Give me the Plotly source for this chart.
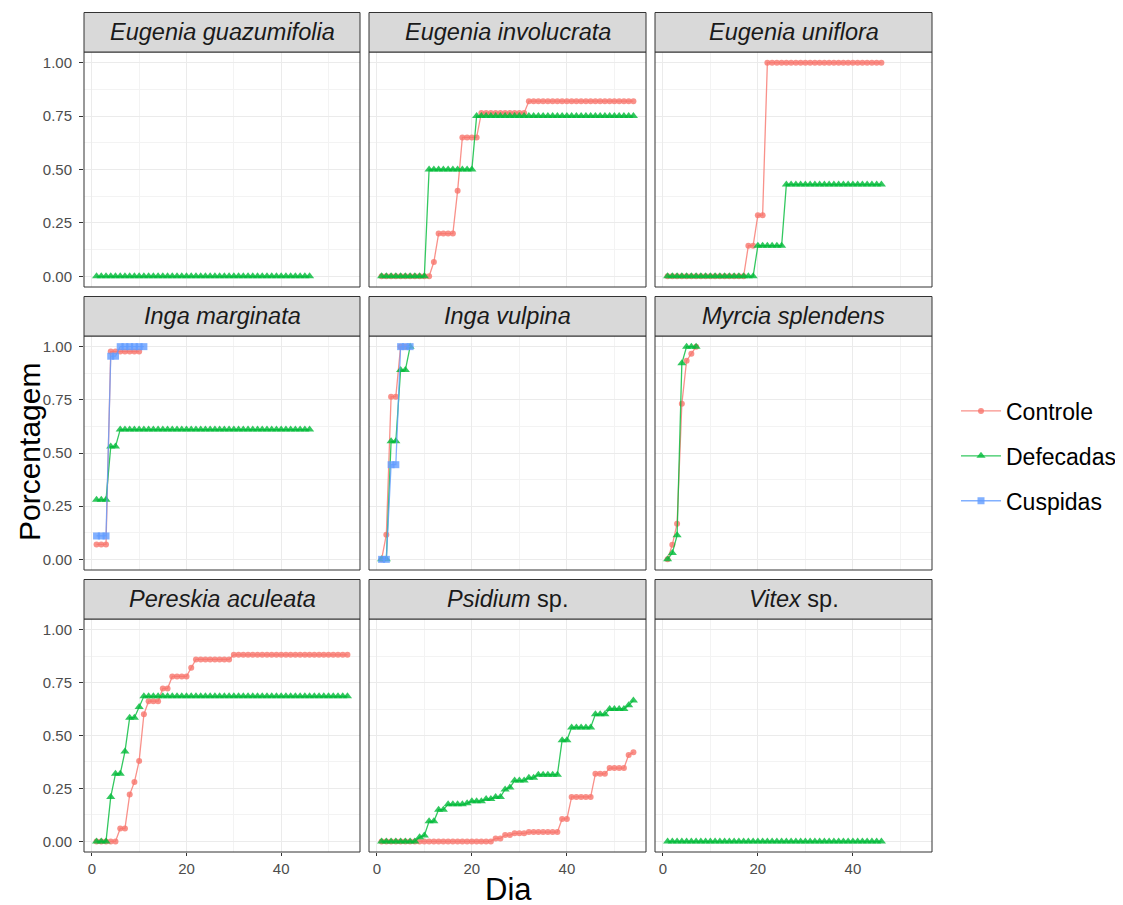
import plotly.graph_objects as go

W, H = 1123, 905
OFF = 8  # page body margin compensation

# ---------------- data ----------------
panel_titles = [
    "<i>Eugenia guazumifolia</i>", "<i>Eugenia involucrata</i>", "<i>Eugenia uniflora</i>",
    "<i>Inga marginata</i>", "<i>Inga vulpina</i>", "<i>Myrcia splendens</i>",
    "<i>Pereskia aculeata</i>", "<i>Psidium</i> sp.", "<i>Vitex</i> sp.",
]
series_names = ["Controle", "Defecadas", "Cuspidas"]

eg_defecadas = [0, 0, 0, 0, 0, 0, 0, 0, 0, 0, 0, 0, 0, 0, 0, 0, 0, 0, 0, 0, 0, 0, 0,
                0, 0, 0, 0, 0, 0, 0, 0, 0, 0, 0, 0, 0, 0, 0, 0, 0, 0, 0, 0, 0, 0, 0]

ei_controle = [0, 0, 0, 0, 0, 0, 0, 0, 0, 0, 0, 0.067, 0.2, 0.2, 0.2, 0.2, 0.4,
               0.65, 0.65, 0.65, 0.65,
               0.765, 0.765, 0.765, 0.765, 0.765, 0.765, 0.765, 0.765, 0.765, 0.765,
               0.82, 0.82, 0.82, 0.82, 0.82, 0.82, 0.82, 0.82, 0.82, 0.82, 0.82, 0.82,
               0.82, 0.82, 0.82, 0.82, 0.82, 0.82, 0.82, 0.82, 0.82, 0.82, 0.82]
ei_defecadas = [0, 0, 0, 0, 0, 0, 0, 0, 0, 0,
                0.5, 0.5, 0.5, 0.5, 0.5, 0.5, 0.5, 0.5, 0.5, 0.5,
                0.75, 0.75, 0.75, 0.75, 0.75, 0.75, 0.75, 0.75, 0.75, 0.75, 0.75, 0.75,
                0.75, 0.75, 0.75, 0.75, 0.75, 0.75, 0.75, 0.75, 0.75, 0.75, 0.75, 0.75,
                0.75, 0.75, 0.75, 0.75, 0.75, 0.75, 0.75, 0.75, 0.75, 0.75]

eu_controle = [0, 0, 0, 0, 0, 0, 0, 0, 0, 0, 0, 0, 0, 0, 0, 0, 0,
               0.143, 0.143, 0.286, 0.286,
               1, 1, 1, 1, 1, 1, 1, 1, 1, 1, 1, 1, 1, 1, 1, 1, 1, 1, 1, 1, 1, 1, 1, 1, 1]
eu_defecadas = [0, 0, 0, 0, 0, 0, 0, 0, 0, 0, 0, 0, 0, 0, 0, 0, 0, 0, 0,
                0.143, 0.143, 0.143, 0.143, 0.143, 0.143,
                0.43, 0.43, 0.43, 0.43, 0.43, 0.43, 0.43, 0.43, 0.43, 0.43, 0.43,
                0.43, 0.43, 0.43, 0.43, 0.43, 0.43, 0.43, 0.43, 0.43, 0.43]

im_controle = [0.07, 0.07, 0.07, 0.977, 0.977, 0.977, 0.977, 0.977, 0.977, 0.977]
im_defecadas = [0.28, 0.28, 0.28, 0.53, 0.53,
                0.61, 0.61, 0.61, 0.61, 0.61, 0.61, 0.61, 0.61, 0.61, 0.61, 0.61,
                0.61, 0.61, 0.61, 0.61, 0.61, 0.61, 0.61, 0.61, 0.61, 0.61, 0.61,
                0.61, 0.61, 0.61, 0.61, 0.61, 0.61, 0.61, 0.61, 0.61, 0.61, 0.61,
                0.61, 0.61, 0.61, 0.61, 0.61, 0.61, 0.61, 0.61]
im_cuspidas = [0.11, 0.11, 0.11, 0.955, 0.955, 1, 1, 1, 1, 1, 1]

iv_controle = [0, 0.116, 0.765, 0.765, 1, 1]
iv_defecadas = [0, 0, 0.555, 0.555, 0.89, 0.89, 1]
iv_cuspidas = [0, 0, 0.445, 0.445, 1, 1, 1]

ms_controle = [0, 0.069, 0.168, 0.731, 0.934, 0.966, 1]
ms_defecadas = [0, 0.03, 0.113, 0.922, 1, 1, 1]

pa_controle = [0, 0, 0, 0, 0, 0.061, 0.061, 0.221, 0.28, 0.38, 0.6,
               0.662, 0.662, 0.662, 0.722, 0.722, 0.779, 0.779, 0.779, 0.779, 0.82,
               0.859, 0.859, 0.859, 0.859, 0.859, 0.859, 0.859, 0.859,
               0.881, 0.881, 0.881, 0.881, 0.881, 0.881, 0.881, 0.881, 0.881, 0.881,
               0.881, 0.881, 0.881, 0.881, 0.881, 0.881, 0.881, 0.881, 0.881, 0.881,
               0.881, 0.881, 0.881, 0.881, 0.881]
pa_defecadas = [0, 0, 0, 0.21, 0.319, 0.319, 0.424, 0.584, 0.584, 0.635,
                0.685, 0.685, 0.685, 0.685, 0.685, 0.685, 0.685, 0.685, 0.685, 0.685,
                0.685, 0.685, 0.685, 0.685, 0.685, 0.685, 0.685, 0.685, 0.685, 0.685,
                0.685, 0.685, 0.685, 0.685, 0.685, 0.685, 0.685, 0.685, 0.685, 0.685,
                0.685, 0.685, 0.685, 0.685, 0.685, 0.685, 0.685, 0.685, 0.685, 0.685,
                0.685, 0.685, 0.685, 0.685]

ps_controle = [0, 0, 0, 0, 0, 0, 0, 0, 0, 0, 0, 0, 0, 0, 0, 0, 0, 0, 0, 0, 0, 0, 0, 0,
               0.014, 0.014, 0.03, 0.03, 0.038, 0.038, 0.038,
               0.044, 0.044, 0.044, 0.044, 0.044, 0.044, 0.044,
               0.106, 0.106, 0.21, 0.21, 0.21, 0.21, 0.21,
               0.319, 0.319, 0.319, 0.346, 0.346, 0.346, 0.346, 0.408, 0.421]
ps_defecadas = [0, 0, 0, 0, 0, 0, 0, 0, 0.02, 0.028, 0.095, 0.095, 0.15, 0.15,
                0.175, 0.175, 0.175, 0.175, 0.18, 0.19, 0.19, 0.19, 0.2, 0.2,
                0.21, 0.21, 0.245, 0.255, 0.287, 0.287, 0.287, 0.3, 0.3,
                0.315, 0.315, 0.315, 0.315, 0.315, 0.478, 0.478,
                0.538, 0.538, 0.538, 0.538, 0.538, 0.6, 0.6, 0.6,
                0.625, 0.625, 0.625, 0.625, 0.643, 0.665]

vs_defecadas = [0, 0, 0, 0, 0, 0, 0, 0, 0, 0, 0, 0, 0, 0, 0, 0, 0, 0, 0, 0, 0, 0, 0,
                0, 0, 0, 0, 0, 0, 0, 0, 0, 0, 0, 0, 0, 0, 0, 0, 0, 0, 0, 0, 0, 0, 0]

panel_data = [
    {"Defecadas": eg_defecadas},
    {"Controle": ei_controle, "Defecadas": ei_defecadas},
    {"Controle": eu_controle, "Defecadas": eu_defecadas},
    {"Controle": im_controle, "Defecadas": im_defecadas, "Cuspidas": im_cuspidas},
    {"Controle": iv_controle, "Defecadas": iv_defecadas, "Cuspidas": iv_cuspidas},
    {"Controle": ms_controle, "Defecadas": ms_defecadas},
    {"Controle": pa_controle, "Defecadas": pa_defecadas},
    {"Controle": ps_controle, "Defecadas": ps_defecadas},
    {"Defecadas": vs_defecadas},
]

y_ticks = [0, 0.25, 0.5, 0.75, 1.0]
x_ticks = [0, 20, 40]

# ---------------- style ----------------
COLORS = {"Controle": "rgba(248,118,109,0.8)", "Defecadas": "rgba(0,186,56,0.8)",
          "Cuspidas": "rgba(97,156,255,0.8)"}
SYMBOLS = {"Controle": "circle", "Defecadas": "triangle-up", "Cuspidas": "square"}
MSIZE = {"Controle": 6, "Defecadas": 8, "Cuspidas": 7}
FONT = "Liberation Sans, Arial, sans-serif"

# pixel geometry measured on the reference page, shifted by the body margin
col_px = [(84 - OFF, 360 - OFF), (369 - OFF, 646 - OFF), (655 - OFF, 932 - OFF)]
row_px = [(52 - OFF, 287 - OFF), (336 - OFF, 570 - OFF), (619 - OFF, 852 - OFF)]
STRIP_H = 39.5

fig = go.Figure()
shown = set()
for i, data in enumerate(panel_data):
    ax = "" if i == 0 else str(i + 1)
    for name in series_names:
        if name not in data:
            continue
        vals = data[name]
        days = list(range(1, len(vals) + 1))
        fig.add_trace(go.Scatter(
            x=days, y=vals, mode="lines+markers", name=name,
            legendgroup=name, showlegend=name not in shown,
            legendrank=series_names.index(name) + 1,
            line=dict(color=COLORS[name], width=1.3),
            marker=dict(color=COLORS[name], symbol=SYMBOLS[name], size=MSIZE[name],
                        line=dict(width=0)),
            xaxis="x" + ax, yaxis="y" + ax,
        ))
        shown.add(name)

layout = dict(
    width=W, height=H, margin=dict(l=0, r=0, t=0, b=0),
    paper_bgcolor="white", plot_bgcolor="white",
    font=dict(family=FONT, color="#1a1a1a"),
    legend=dict(x=(956 - OFF) / W, xanchor="left", y=1 - (456 - OFF) / H, yanchor="middle",
                font=dict(size=23, family=FONT, color="#000000"),
                tracegroupgap=12, itemwidth=40, bgcolor="rgba(0,0,0,0)", borderwidth=0),
    showlegend=True,
)
shapes = []
annotations = []
for i in range(9):
    r, c = divmod(i, 3)
    ax = "" if i == 0 else str(i + 1)
    x0, x1 = col_px[c]
    y0, y1 = row_px[r]
    ph = y1 - y0
    layout["xaxis" + ax] = dict(
        domain=[x0 / W, x1 / W], anchor="y" + ax, range=[-1.65, 56.65],
        tickvals=x_ticks, showticklabels=(r == 2), ticks="outside" if r == 2 else "",
        ticklen=3, tickcolor="#333333", tickwidth=1, ticklabelstandoff=0,
        tickfont=dict(size=15, color="#4d4d4d", family=FONT),
        showgrid=True, gridcolor="#EBEBEB", gridwidth=1.2, zeroline=False,
        minor=dict(tickvals=[10, 30, 50], showgrid=True, gridcolor="#F3F3F3", gridwidth=0.7),
        showline=False,
    )
    layout["yaxis" + ax] = dict(
        domain=[1 - y1 / H, 1 - y0 / H], anchor="x" + ax, range=[-0.05, 1.05],
        tickvals=y_ticks, ticktext=["%.2f" % v for v in y_ticks],
        showticklabels=(c == 0), ticks="outside" if c == 0 else "",
        ticklen=4, tickcolor="#333333", tickwidth=1, ticklabelstandoff=4,
        tickfont=dict(size=15, color="#4d4d4d", family=FONT),
        showgrid=True, gridcolor="#EBEBEB", gridwidth=1.2, zeroline=False,
        minor=dict(tickvals=[0.125, 0.375, 0.625, 0.875], showgrid=True,
                   gridcolor="#F3F3F3", gridwidth=0.7),
        showline=False,
    )
    shapes.append(dict(type="rect", xref="x" + ax + " domain", yref="y" + ax + " domain",
                       x0=0, x1=1, y0=0, y1=1, line=dict(color="#333333", width=1),
                       fillcolor="rgba(0,0,0,0)", layer="above"))
    shapes.append(dict(type="rect", xref="x" + ax + " domain", yref="y" + ax + " domain",
                       x0=0, x1=1, y0=1, y1=1 + STRIP_H / ph,
                       line=dict(color="#333333", width=1), fillcolor="#D9D9D9"))
    annotations.append(dict(xref="x" + ax + " domain", yref="y" + ax + " domain",
                            x=0.5, y=1 + (STRIP_H / 2) / ph, text=panel_titles[i],
                            showarrow=False, xanchor="center", yanchor="middle",
                            font=dict(size=23.5, family=FONT, color="#1a1a1a")))

annotations.append(dict(xref="paper", yref="paper", x=(508 - OFF) / W, y=1 - (889 - OFF) / H,
                        text="Dia", showarrow=False, xanchor="center", yanchor="middle",
                        font=dict(size=31, family=FONT, color="#000000")))
annotations.append(dict(xref="paper", yref="paper", x=(30 - OFF) / W, y=1 - (452 - OFF) / H,
                        text="Porcentagem", textangle=-90,
                        showarrow=False, xanchor="center", yanchor="middle",
                        font=dict(size=30, family=FONT, color="#000000")))
layout["shapes"] = shapes
layout["annotations"] = annotations
fig.update_layout(**layout)

fig.write_html("out.html")
